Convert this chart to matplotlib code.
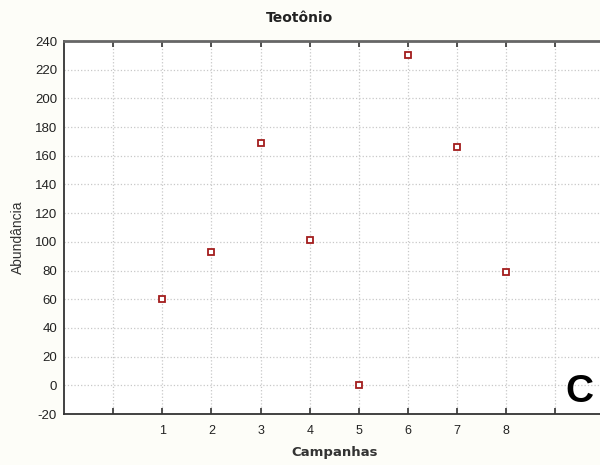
import matplotlib
matplotlib.use('Agg')
from matplotlib import pyplot as plt
import numpy as np

plt.rcParams['axes.unicode_minus'] = False

# Data
campanhas = [1, 2, 3, 4, 5, 6, 7, 8]
abundancia = [60, 93, 169, 101, 0, 230, 166, 79]
yticks = np.arange(-20, 241, 20)

fig = plt.figure(figsize=(6, 4.65), dpi=100, facecolor='#fdfdf8')
ax = fig.add_axes([64/600, 1-414/465, 540.6/600, 373/465])
ax.set_facecolor('white')

ax.plot(campanhas, abundancia, linestyle='none', marker='s', markersize=5,
        markerfacecolor='white', markeredgecolor='#a31d1d', markeredgewidth=1.3)

ax.set_xlim(-1, 10)
ax.set_ylim(-20, 240)
ax.set_xticks(np.arange(0, 10))
ax.set_xticklabels([''] + [str(c) for c in campanhas] + [''])
ax.set_yticks(yticks)
ax.grid(True, color='#c8c8c8', linestyle=':', linewidth=0.9)

ax.tick_params(axis='x', direction='in', top=True, length=4, width=1.2,
               color='#333333', labelsize=9, pad=8)
ax.tick_params(axis='y', direction='in', length=0, labelsize=9.5, pad=5)
for lbl in ax.get_xticklabels() + ax.get_yticklabels():
    lbl.set_family('Liberation Sans')
    lbl.set_color('#222222')

ax.spines['right'].set_visible(False)
ax.spines['top'].set_color('#666666')
ax.spines['top'].set_linewidth(2)
ax.spines['bottom'].set_color('#333333')
ax.spines['bottom'].set_linewidth(1.3)
ax.spines['left'].set_color('#333333')
ax.spines['left'].set_linewidth(1.3)

fig.text(0.5, 0.962, 'Teotônio', ha='center', va='center', fontsize=10,
         fontweight='bold', family='DejaVu Sans', color='#222222')
fig.text(0.557, 0.027, 'Campanhas', ha='center', va='center', fontsize=9.5,
         fontweight='bold', family='DejaVu Sans', color='#333333')
fig.text(0.03, 0.49, 'Abundância', ha='center', va='center', rotation=90,
         fontsize=10, family='Liberation Sans', color='#333333')
fig.text(0.966, 0.158, 'C', ha='center', va='center', fontsize=28,
         fontweight='bold', family='Liberation Sans', color='black')

fig.savefig('out.png', dpi=100, facecolor=fig.get_facecolor())
